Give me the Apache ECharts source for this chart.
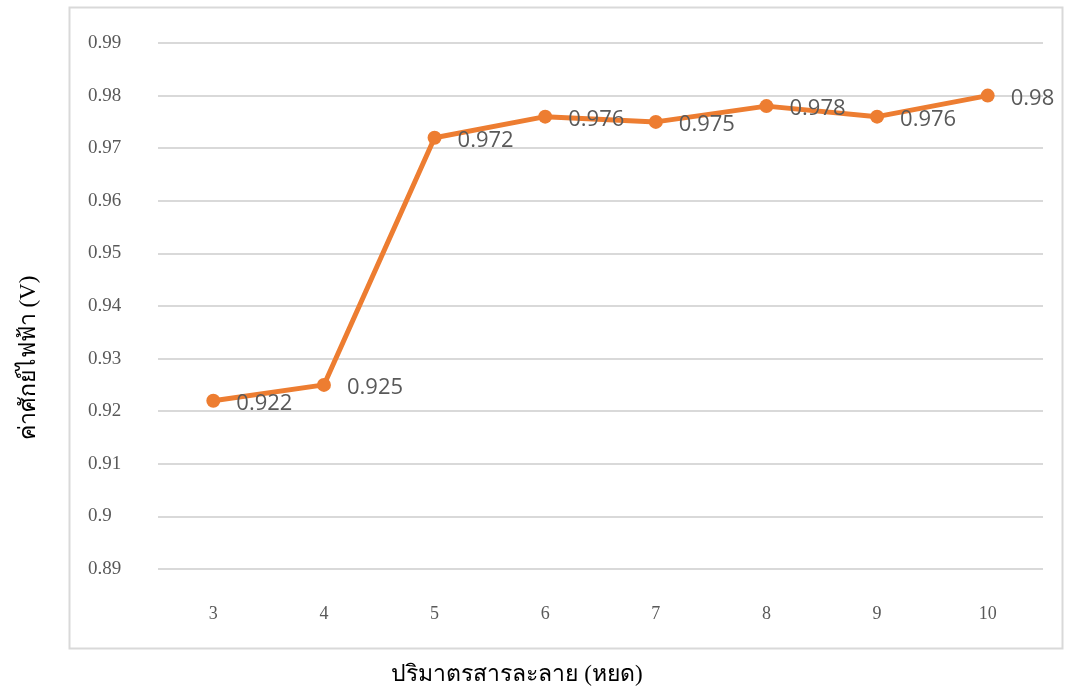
<!DOCTYPE html>
<html>
<head>
<meta charset="utf-8">
<script src="https://cdn.jsdelivr.net/npm/echarts@6/dist/echarts.min.js"></script>
<style>
  html, body { margin: 0; padding: 0; background: #fff; }
  #main { width: 1068px; height: 693px; }
</style>
</head>
<body>
<div id="main"></div>
<script>
// ข้อมูลจากกราฟ
const drops = ['3', '4', '5', '6', '7', '8', '9', '10'];
const voltage = [0.922, 0.925, 0.972, 0.976, 0.975, 0.978, 0.976, 0.98];
const yMin = 0.89;
const yMax = 0.99;
const yStep = 0.01;

const chart = echarts.init(document.getElementById('main'));
const option = {
  backgroundColor: '#fff',
  animation: false,
  graphic: [
    {
      type: 'rect',
      shape: { x: 69.5, y: 7.5, width: 993, height: 641 },
      style: { fill: 'none', stroke: '#d9d9d9', lineWidth: 2 },
      z: -1
    },
    {
      type: 'text',
      x: 517, y: 675,
      style: { text: 'ปริมาตรสารละลาย (หยด)', font: '23px "Liberation Serif", serif', fill: '#000', align: 'center', verticalAlign: 'middle' }
    },
    {
      type: 'text',
      x: 29, y: 358,
      rotation: Math.PI / 2,
      style: { text: 'ค่าศักย์ไฟฟ้า (V)', font: '23px "Liberation Serif", serif', fill: '#000', align: 'center', verticalAlign: 'middle' }
    }
  ],
  grid: { left: 158, right: 25, top: 43, bottom: 124 },
  xAxis: {
    type: 'category',
    data: drops,
    boundaryGap: true,
    axisLine: { show: false },
    axisTick: { show: false },
    axisLabel: { color: '#595959', fontSize: 18, fontFamily: 'Liberation Serif', margin: 36 }
  },
  yAxis: {
    type: 'value',
    min: yMin,
    max: yMax,
    interval: yStep,
    axisLine: { show: false },
    axisTick: { show: false },
    axisLabel: {
      color: '#595959', fontSize: 19, fontFamily: 'Liberation Serif', margin: 70,
      align: 'left',
      formatter: v => String(+v.toFixed(2))
    },
    splitLine: { lineStyle: { color: '#d9d9d9', width: 2 } }
  },
  series: [
    {
      type: 'line',
      data: voltage,
      lineStyle: { color: '#ED7D31', width: 5 },
      itemStyle: { color: '#ED7D31' },
      symbol: 'circle',
      symbolSize: 14,
      label: {
        show: true,
        position: 'right',
        distance: 16,
        offset: [0, 3],
        color: '#595959',
        fontSize: 22,
        fontFamily: 'Open Sans'
      }
    }
  ]
};
chart.setOption(option);
</script>
</body>
</html>
